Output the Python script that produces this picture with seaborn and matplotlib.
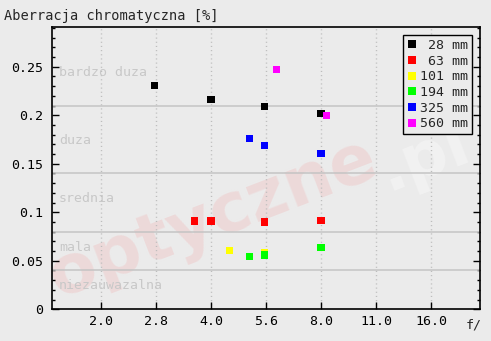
import matplotlib
matplotlib.use("Agg")
import matplotlib.pyplot as plt
import matplotlib.transforms as mtransforms
from matplotlib.ticker import FixedLocator, NullLocator, MultipleLocator
import numpy as np
import pandas as pd
import seaborn as sns

# ---------------- data ----------------
title = "Aberracja chromatyczna [%]"
x_axis_label = "f/"

focal_lengths = [28, 63, 101, 194, 325, 560]
series_colors = ["#000000", "#ff0000", "#ffff00", "#00ff00", "#0000ff", "#ff00ff"]

f_28 = [2.8, 4.0, 5.6, 8.0]
ca_28 = [0.231, 0.216, 0.209, 0.202]
f_63 = [3.6, 4.0, 5.6, 8.0]
ca_63 = [0.091, 0.091, 0.090, 0.092]
f_101 = [4.5, 5.6]
ca_101 = [0.061, 0.059]
f_194 = [5.1, 5.6, 8.0]
ca_194 = [0.054, 0.056, 0.064]
f_325 = [5.1, 5.6, 8.0]
ca_325 = [0.176, 0.169, 0.161]
f_560 = [6.05, 8.3]
ca_560 = [0.247, 0.200]

x_tick_values = [2.0, 2.0 * 2 ** 0.5, 4.0, 4.0 * 2 ** 0.5, 8.0, 8.0 * 2 ** 0.5, 16.0]
x_tick_labels = ["2.0", "2.8", "4.0", "5.6", "8.0", "11.0", "16.0"]
y_tick_values = [0, 0.05, 0.1, 0.15, 0.2, 0.25]
y_tick_labels = ["0", "0.05", "0.1", "0.15", "0.2", "0.25"]

zone_bounds = [0.04, 0.08, 0.14, 0.21]
zone_labels = ["niezauwazalna", "mala", "srednia", "duza", "bardzo duza"]
zone_label_y = [0.0247, 0.0639, 0.1144, 0.1745, 0.2446]

watermark_main = "optyczne"
watermark_tail = ".pl"

# ---------------- build table ----------------
series_f = [f_28, f_63, f_101, f_194, f_325, f_560]
series_ca = [ca_28, ca_63, ca_101, ca_194, ca_325, ca_560]
labels = [f"{fl:>3d} mm" for fl in focal_lengths]
frames = []
for lab, fs, cas in zip(labels, series_f, series_ca):
    frames.append(pd.DataFrame({"f": fs, "ca": cas, "label": lab}))
df = pd.concat(frames, ignore_index=True)
palette = dict(zip(labels, series_colors))

# ---------------- style ----------------
BG = "#ebebeb"
sns.set_style("ticks")
MONO = ["DejaVu Sans Mono"]
plt.rcParams["font.family"] = MONO
plt.rcParams["font.size"] = 9

W, H = 491, 341
fig = plt.figure(figsize=(W / 100, H / 100), dpi=100, facecolor=BG)
L, R, T, B = 51.5, 480.5, 27.0, 309.3
ax = fig.add_axes([L / W, 1 - B / H, (R - L) / W, (B - T) / H])
ax.set_facecolor(BG)

sns.scatterplot(data=df, x="f", y="ca", hue="label", hue_order=labels,
                palette=palette, marker="s", s=26, linewidth=0,
                ax=ax, zorder=5)

ax.set_xscale("log", base=2)
ax.set_xlim(1.464, 21.86)
ax.set_ylim(0, 0.291)

ax.xaxis.set_major_locator(FixedLocator(x_tick_values))
ax.set_xticklabels(x_tick_labels)
ax.xaxis.set_minor_locator(NullLocator())
ax.yaxis.set_major_locator(FixedLocator(y_tick_values))
ax.set_yticklabels(y_tick_labels)
ax.yaxis.set_minor_locator(MultipleLocator(0.01))

ax.set_xlabel("")
ax.set_ylabel("")

for sp in ax.spines.values():
    sp.set_visible(True)
    sp.set_color("black")
    sp.set_linewidth(1.2)

ax.tick_params(axis="both", which="both", direction="in", colors="black",
               labelsize=9.5, top=False, right=True)
ax.tick_params(axis="y", which="major", length=5, width=1, pad=6)
ax.tick_params(axis="y", which="minor", length=2.5, width=1)
ax.tick_params(axis="x", which="major", length=5, width=1, pad=4)

# grids
ax.xaxis.grid(True, linestyle=(0, (0.8, 2.2)), color="#bdbdbd", lw=1, zorder=1)
ax.yaxis.grid(False)
for yb in zone_bounds:
    ax.axhline(yb, color="#c4c4c4", lw=1.1, zorder=1)

trans = mtransforms.blended_transform_factory(ax.transAxes, ax.transData)
for lab, yv in zip(zone_labels, zone_label_y):
    ax.text(0.0175, yv, lab, transform=trans, ha="left", va="center",
            color="#c8c8c8", fontsize=9.5, zorder=2)

# watermark
ang = 21
ax.annotate(watermark_main, xy=(58, 43), xycoords="figure pixels",
            rotation=ang, rotation_mode="anchor", ha="left", va="baseline",
            fontsize=49, fontweight="bold", family=["DejaVu Sans"],
            color="#efc8c8", alpha=0.5, zorder=0)
ax.annotate(watermark_tail, xy=(388, 150), xycoords="figure pixels",
            rotation=ang, rotation_mode="anchor", ha="left", va="baseline",
            fontsize=46, fontweight="bold", family=["DejaVu Sans"],
            color="#f4f4f4", alpha=0.75, zorder=0)

# legend
h, l = ax.get_legend_handles_labels()
leg = ax.legend(h, l, loc="upper right",
                bbox_to_anchor=(472.3 / W, 1 - 35 / H), bbox_transform=fig.transFigure,
                frameon=True, fancybox=False, edgecolor="black", facecolor=BG,
                framealpha=1, prop=dict(family="DejaVu Sans Mono", size=9.5),
                handletextpad=0.2, labelspacing=0.2, borderpad=0.3,
                handlelength=0.8, borderaxespad=0)
leg.get_frame().set_linewidth(1.0)
leg.set_zorder(10)

fig.text(4.5 / W, 1 - 15.7 / H, title, ha="left", va="center", fontsize=9.8)
fig.text(466 / W, 1 - 325 / H, x_axis_label, ha="left", va="center", fontsize=9.5)

fig.savefig("out.png", dpi=100, facecolor=BG)
